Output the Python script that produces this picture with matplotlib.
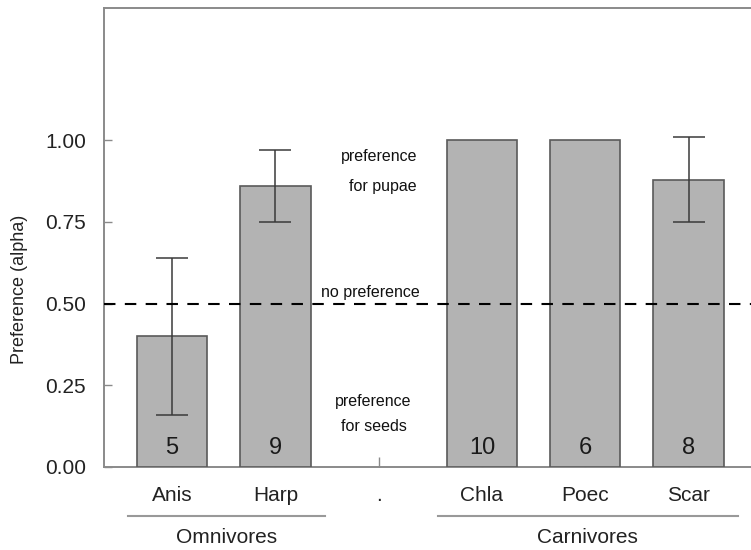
import numpy as np
import matplotlib
matplotlib.use("Agg")
import matplotlib.pyplot as plt
from matplotlib.transforms import blended_transform_factory

plt.rcParams['font.family'] = ['Liberation Sans', 'DejaVu Sans']

# Species (with a blank slot separating the two feeding groups)
categories = ["Anis", "Harp", ".", "Chla", "Poec", "Scar"]
species = ["Anis", "Harp", "Chla", "Poec", "Scar"]
alpha_mean = [0.40, 0.86, 1.00, 1.00, 0.88]
alpha_err = [0.24, 0.11, 0.0, 0.0, 0.13]
sample_n = [5, 9, 10, 6, 8]
groups = ["Omnivores", "Carnivores"]
group_members = [["Anis", "Harp"], ["Chla", "Poec", "Scar"]]
y_ticks = [0.00, 0.25, 0.50, 0.75, 1.00]

W, H = 751, 550
fig = plt.figure(figsize=(W / 100, H / 100), dpi=100)
ax = fig.add_axes([104 / W, 1 - 467 / H, 1 - 104 / W, (467 - 8) / H])

pos = {c: i for i, c in enumerate(categories)}
x = [pos[s] for s in species]

bar_color = "#b3b3b3"
edge_color = "#5a5a5a"
spine_color = "#8a8a8a"

ax.bar(x, alpha_mean, width=0.68, color=bar_color, edgecolor=edge_color,
       linewidth=1.2, zorder=3)
ex = [xi for xi, e in zip(x, alpha_err) if e > 0]
ey = [m for m, e in zip(alpha_mean, alpha_err) if e > 0]
ee = [e for e in alpha_err if e > 0]
ax.errorbar(ex, ey, yerr=ee, fmt="none", ecolor="#3a3a3a", elinewidth=1.1,
            capsize=11.5, capthick=1.1, zorder=4)

for xi, n in zip(x, sample_n):
    ax.text(xi, 0.058, str(n), ha="center", va="center", fontsize=17,
            color="#1a1a1a", zorder=5)

# Reference line for no preference
ax.axhline(0.5, color="black", lw=1.5, linestyle=(0, (5.5, 4.5)), zorder=4)

ann = dict(ha="center", va="center", fontsize=11.5, color="#111111")
ax.text(2.0, 0.949, "preference", **ann)
ax.text(2.04, 0.860, "for pupae", **ann)
ax.text(1.92, 0.533, "no preference", **ann)
ax.text(1.95, 0.202, "preference", **ann)
ax.text(1.95, 0.125, "for seeds", **ann)

ax.set_xlim(-0.66, 5.605)
ax.set_ylim(0, 1.405)
ax.set_yticks(y_ticks)
ax.set_yticklabels([f"{t:.2f}" for t in y_ticks])
ax.set_xticks(range(len(categories)))
ax.set_xticklabels(categories)

ax.tick_params(axis="y", direction="in", length=6, width=1, color=spine_color,
               labelsize=15, pad=13, labelcolor="#222222")
ax.tick_params(axis="x", direction="in", length=7, width=1, color=spine_color,
               labelsize=15, pad=14, labelcolor="#222222")

for side in ["left", "bottom", "top"]:
    ax.spines[side].set_color(spine_color)
    ax.spines[side].set_linewidth(1.4)
ax.spines["right"].set_visible(False)

fig.text(20 / W, 1 - 289 / H, "Preference (alpha)", rotation=90,
         ha="center", va="center", fontsize=13, color="#222222")

# Group brackets below the tick labels
trans = blended_transform_factory(ax.transData, ax.transAxes)
for g, members in zip(groups, group_members):
    xs = [pos[m] for m in members]
    x0, x1 = min(xs) - 0.43, max(xs) + 0.48
    ax.plot([x0, x1], [-0.107, -0.107], color="#999999", lw=1.5,
            transform=trans, clip_on=False)
    ax.text((x0 + x1) / 2, -0.153, g, transform=trans, ha="center",
            va="center", fontsize=15, color="#222222")

fig.savefig("out.png", dpi=100)
